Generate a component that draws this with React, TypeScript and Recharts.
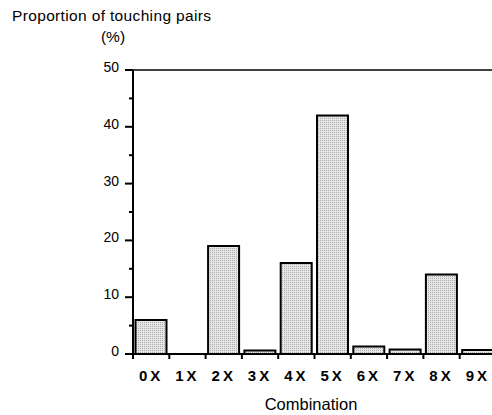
import React from "react";
import { BarChart, Bar, XAxis, YAxis, ReferenceLine } from "recharts";

const CATEGORIES = ["0X", "1X", "2X", "3X", "4X", "5X", "6X", "7X", "8X", "9X"];
const PROPORTION = [6, 0, 19, 0.6, 16, 42, 1.3, 0.8, 14, 0.7];
const Y_TICKS = [0, 5, 10, 15, 20, 25, 30, 35, 40, 45, 50];

const CHART_W = 500;
const CHART_H = 415;
const MARGIN = { top: 70, right: 4, left: 0, bottom: 0 };
const Y_AXIS_W = 133;
const X_AXIS_H = 61;
const Y_TICK_SIZE = 6;
const Y_TICK_MARGIN = 8;
const BAND = (CHART_W - Y_AXIS_W - MARGIN.right - MARGIN.left) / CATEGORIES.length;
const FONT = '"Liberation Sans", Arial, Helvetica, sans-serif';

const data = CATEGORIES.map((c, i) => ({ combo: c, value: PROPORTION[i] }));

// y ticks: long marks + labels every 10, short marks at the 5s
const YTick = (props: any) => {
  const x = Number(props.x);
  const y = Number(props.y);
  const value = props.payload.value;
  const axisX = x + Y_TICK_SIZE + Y_TICK_MARGIN;
  const major = value % 10 === 0;
  const len = major ? 8 : 4;
  return (
    <g>
      <rect x={axisX - len} y={y - 1} width={len} height={2} fill="#000" />
      {major && (
        <text x={x} y={y + 2} textAnchor="end" fontSize={14} fill="#000" fontFamily={FONT}>
          {value}
        </text>
      )}
    </g>
  );
};

// x ticks sit on the category boundaries, labels in the middle
const XTick = (props: any) => {
  const x = Number(props.x);
  const y = Number(props.y);
  const last = props.index === CATEGORIES.length - 1;
  return (
    <g>
      <rect x={x - BAND / 2 - 1} y={y - 1} width={2} height={6} fill="#000" />
      {last && <rect x={x + BAND / 2 - 1} y={y - 1} width={2} height={6} fill="#000" />}
      <text
        x={x}
        y={y + 27}
        textAnchor="middle"
        fontSize={15}
        fontWeight="bold"
        letterSpacing={3}
        fill="#000"
        fontFamily={FONT}
      >
        {props.payload.value}
      </text>
    </g>
  );
};

export default function App() {
  return (
    <div
      style={{
        position: "absolute",
        left: 0,
        top: 0,
        width: 492,
        height: 415,
        overflow: "hidden",
        background: "#fff",
        fontFamily: FONT,
        color: "#000",
      }}
    >
      <div style={{ position: "absolute", left: 12, top: 7, fontSize: 15.5, letterSpacing: 0.35, whiteSpace: "nowrap" }}>
        Proportion of touching pairs
      </div>
      <div style={{ position: "absolute", left: 93, width: 40, top: 28, fontSize: 15.5, textAlign: "center" }}>(%)</div>
      <div
        style={{ position: "absolute", left: 211, width: 200, top: 395, fontSize: 16.5, textAlign: "center" }}
      >
        Combination
      </div>
      <BarChart width={CHART_W} height={CHART_H} data={data} margin={MARGIN} barCategoryGap={2.5}>
        <defs>
          <pattern id="stipple" width="2" height="2" patternUnits="userSpaceOnUse">
            <rect width="2" height="2" fill="#e6e6e6" />
            <rect width="1" height="1" fill="#adadad" />
          </pattern>
        </defs>
        <XAxis
          dataKey="combo"
          height={X_AXIS_H}
          tickSize={0}
          tickMargin={0}
          tickLine={false}
          tick={<XTick />}
          interval={0}
          axisLine={{ stroke: "#000", strokeWidth: 2 }}
        />
        <YAxis
          domain={[0, 50]}
          ticks={Y_TICKS}
          interval={0}
          width={Y_AXIS_W}
          tickSize={Y_TICK_SIZE}
          tickMargin={Y_TICK_MARGIN}
          tickLine={false}
          tick={<YTick />}
          axisLine={{ stroke: "#000", strokeWidth: 2 }}
        />
        <ReferenceLine y={50} stroke="#000" strokeWidth={1.5} />
        <Bar dataKey="value" fill="url(#stipple)" stroke="#000" strokeWidth={2} isAnimationActive={false} />
      </BarChart>
    </div>
  );
}
